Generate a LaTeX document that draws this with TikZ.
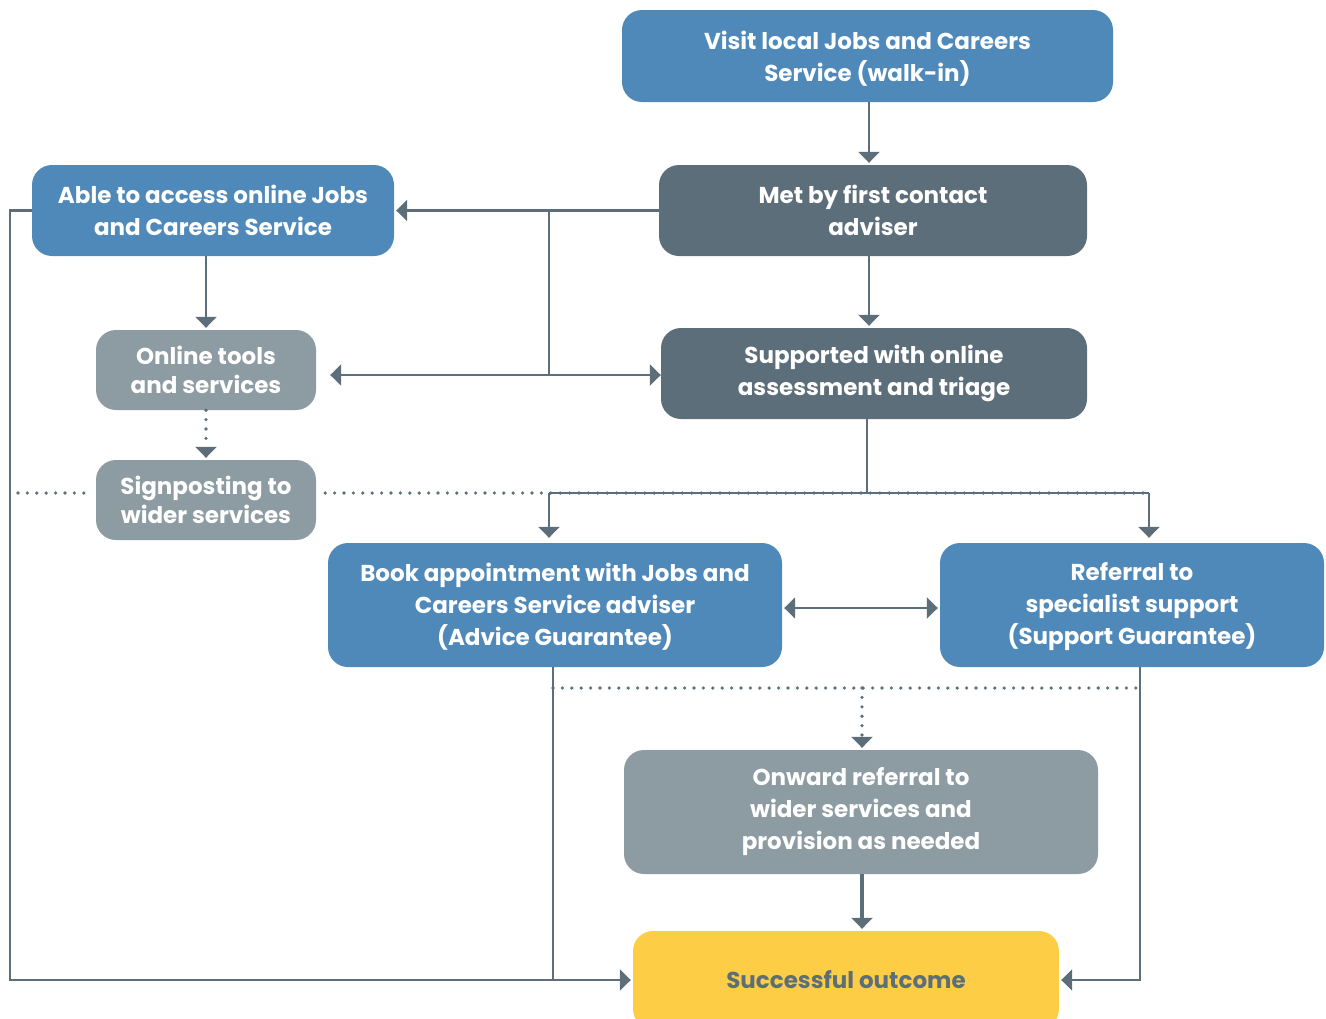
\documentclass[tikz,border=0pt]{standalone}
\usepackage{fontspec}
\setmainfont{Poppins}
\usetikzlibrary{arrows.meta,calc}

\definecolor{svcblue}{HTML}{4F89BA}
\definecolor{svcdark}{HTML}{5C6E7A}
\definecolor{svcgrey}{HTML}{8D9BA2}
\definecolor{svcyellow}{HTML}{FECD46}
\definecolor{linkcol}{HTML}{5C6E7A}

\tikzset{
  box/.style={rounded corners=20pt, draw=none, align=center, text=white,
    inner sep=0pt, font=\fontsize{23}{32}\selectfont\bfseries},
  bluebox/.style={box, fill=svcblue},
  darkbox/.style={box, fill=svcdark},
  greybox/.style={box, fill=svcgrey},
  smalllead/.style={font=\fontsize{23}{29}\selectfont\bfseries},
  link/.style={draw=linkcol, line width=2.4pt},
  tip/.style={-{Triangle[length=11pt,width=21pt]}, shorten >=2pt},
  tips/.style={{Triangle[length=11pt,width=21pt]}-{Triangle[length=11pt,width=21pt]}, shorten >=2pt, shorten <=2pt},
  dots/.style={draw=linkcol, line width=3.6pt, line cap=round, dash pattern=on 0pt off 9.4pt},
}

\begin{document}
\begin{tikzpicture}[x=1pt,y=-1pt]
\useasboundingbox (0,0) rectangle (1326,1018);
\clip (0,0) rectangle (1326,1018);

% boxes
\node[bluebox, minimum width=491pt, minimum height=92pt] (visit) at (867.5,56)
  {\rule{0pt}{24pt}Visit local Jobs and Careers\\Service (walk-in)};
\node[darkbox, minimum width=428pt, minimum height=91pt] (met) at (873,210.5)
  {Met by first contact\\adviser};
\node[bluebox, minimum width=362pt, minimum height=91pt] (able) at (213,210.5)
  {Able to access online Jobs\\and Careers Service};
\node[greybox, smalllead, minimum width=220pt, minimum height=80pt] (online) at (206,370)
  {Online tools\\and services};
\node[darkbox, minimum width=426pt, minimum height=91pt] (supp) at (874,373.5)
  {Supported with online\\assessment and triage};
\node[greybox, smalllead, minimum width=220pt, minimum height=80pt] (sign) at (206,500)
  {Signposting to\\wider services};
\node[bluebox, minimum width=454pt, minimum height=124pt] (book) at (555,605)
  {\rule{0pt}{22pt}Book appointment with Jobs and\\Careers Service adviser\\(Advice Guarantee)};
\node[bluebox, minimum width=384pt, minimum height=124pt] (ref) at (1132,605)
  {\rule{0pt}{22pt}Referral to\\specialist support\\(Support Guarantee)};
\node[greybox, minimum width=474pt, minimum height=124pt] (onward) at (861,812)
  {Onward referral to\\wider services and\\provision as needed};
\node[box, fill=svcyellow, text=svcdark, minimum width=426pt, minimum height=98pt] (outcome) at (846,980)
  {Successful outcome};

% junction points
\coordinate (hubTop) at (549,210.5);
\coordinate (hub) at (549,375);
\coordinate (splitL) at (549,493);
\coordinate (splitR) at (1149,493);
\coordinate (dotL) at (18,493);
\coordinate (lowL) at (553,688);
\coordinate (lowR) at (1140,688);
\coordinate (lowMid) at (862,688);

% dotted separators
\draw[dots] (dotL) -- ([xshift=-8pt]sign.west |- dotL);
\draw[dots] ([xshift=9pt]sign.east |- dotL) -- (splitR);
\draw[dots] (lowL) -- (lowR);
\draw[dots, -{Triangle[length=11pt,width=21pt]}, shorten >=2pt] (lowMid) -- (lowMid |- onward.north);
\draw[dots, -{Triangle[length=11pt,width=21pt]}, shorten >=2pt] (online.south) -- (sign.north);

% solid connectors
\draw[link, tip] (visit.south -| 869,0) -- (869,0 |- met.north);
\draw[link, tip] (met.west) -- (able.east);
\draw[link] (hubTop) -- (hub);
\draw[link, tip, shorten >=14pt] (hub) -- (hub -| online.east);
\draw[link, tip, shorten >=0pt] (hub) -- (hub -| supp.west);
\draw[link, tip] (able.south -| online.north) -- (online.north);
\draw[link, tip] (met.south -| 869,0) -- (869,0 |- supp.north);
\draw[link] (supp.south -| 867,0) -- (867,0 |- splitL);
\draw[link] (splitL) -- (splitR);
\draw[link, tip, shorten >=5pt] (splitL) -- (splitL |- book.north);
\draw[link, tip, shorten >=5pt] (splitR) -- (splitR |- ref.north);
\draw[link, tips] (book.east |- 0,608) -- (ref.west |- 0,608);
\draw[link, tip] (able.west) -- ++(-22,0) |- (outcome.west);
\draw[link] (book.south -| lowL) -- (lowL |- outcome.west);
\draw[link, tip] (ref.south -| lowR) |- (outcome.east);
\draw[link, line width=3.4pt, tip] (onward.south -| lowMid) -- (lowMid |- outcome.north);
\end{tikzpicture}
\end{document}
